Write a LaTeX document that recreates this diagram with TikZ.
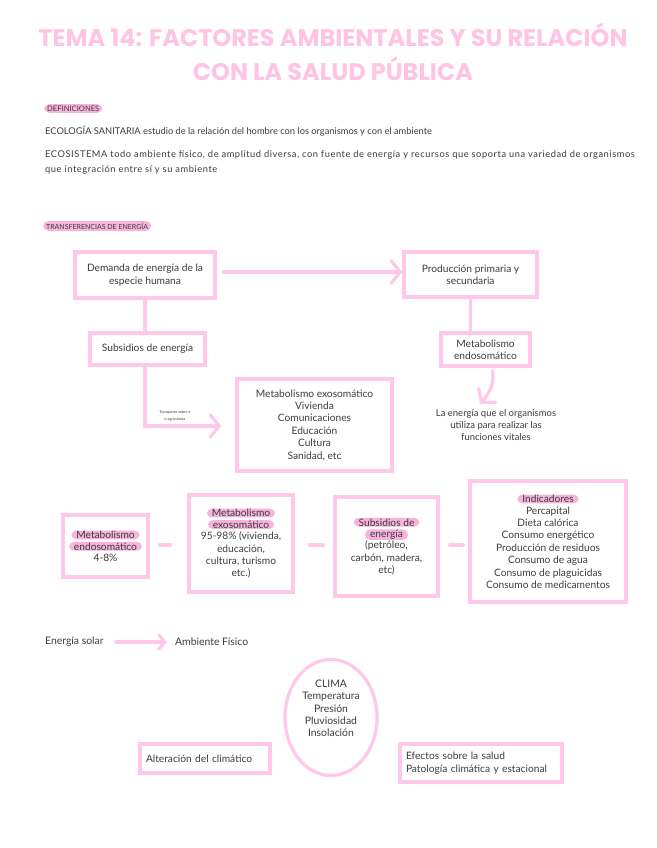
\documentclass[tikz,border=0pt]{standalone}
\usepackage{fontspec}
\setmainfont{Lato}
\newfontfamily\titlefont{Poppins}
\usetikzlibrary{arrows.meta,shapes.geometric}
\definecolor{lp}{HTML}{FFC8EA}
\definecolor{hl}{HTML}{F7B3DC}
\definecolor{tx}{HTML}{3C3C3C}
\definecolor{ttl}{HTML}{FFC3E4}
\newcommand{\hlt}[1]{\tikz[baseline]\node[anchor=base,draw=none,fill=hl,rounded corners=5pt,minimum width=0pt,minimum height=0pt,line width=0.4pt,inner xsep=5pt,inner ysep=0.6pt,text=tx,align=center]{#1};}
\tikzset{
  pbox/.style={draw=lp,line width=3.2pt,text=tx,align=center,font=\fontsize{10.2}{12.4}\selectfont,inner sep=2pt},
  plink/.style={draw=lp,line width=3.2pt,line cap=round},
  parrow/.style={plink,-{Straight Barb[length=9pt,width=22pt,line cap=round]}},
  ptext/.style={text=tx,font=\fontsize{9.3}{12.5}\selectfont,inner sep=0pt},
  sect/.style={fill=hl,rounded corners=5pt,text=tx,inner xsep=3pt,inner ysep=1.5pt}
}
\begin{document}
\begin{tikzpicture}[x=1pt,y=-1pt]
\useasboundingbox[fill=white] (0,0) rectangle (656,848);
% title
\node[text=ttl,font=\titlefont\bfseries\fontsize{24}{34}\selectfont,align=center] (title) at (333,52)
  {TEMA 14: FACTORES AMBIENTALES Y SU RELACIÓN\\CON LA SALUD PÚBLICA};
% definitions
\node[sect,anchor=west,font=\fontsize{7.6}{9}\selectfont] (def) at (44,108.5) {DEFINICIONES};
\node[ptext,anchor=west] (eco) at (45,131) {ECOLOGÍA SANITARIA estudio de la relación del hombre con los organismos y con el ambiente};
\node[ptext,anchor=north west,align=left,font=\addfontfeature{LetterSpace=6}\fontsize{9.3}{15}\selectfont] (ecos) at (45,150) {ECOSISTEMA todo ambiente físico, de amplitud diversa, con fuente de energía y recursos que soporta una variedad de organismos\\que integración entre sí y su ambiente};
\node[sect,anchor=west,font=\fontsize{7}{8.5}\selectfont] (tra) at (43,226) {TRANSFERENCIAS DE ENERGÍA};
% top boxes
\node[pbox,minimum width=140pt,minimum height=46pt] (b1) at (145,275) {Demanda de energía de la\\especie humana};
\node[pbox,minimum width=133pt,minimum height=45pt] (b2) at (470.5,274.5) {Producción primaria y\\secundaria};
\node[pbox,minimum width=115pt,minimum height=32pt] (b3) at (147.5,349) {Subsidios de energía};
\node[pbox,minimum width=89pt,minimum height=33pt] (b4) at (485.5,349.5) {Metabolismo\\endosomático};
\node[pbox,minimum width=155pt,minimum height=92pt] (b5) at (314.5,425) {Metabolismo exosomático\\Vivienda\\Comunicaciones\\Educación\\Cultura\\Sanidad, etc};
\node[ptext,align=center,font=\fontsize{9.5}{12.4}\selectfont] (lat) at (496,425) {La energía que el organismos\\utiliza para realizar las\\funciones vitales};
\node[text=tx,align=center,font=\fontsize{3.8}{6.5}\selectfont,inner sep=0pt] (small) at (175,416) {Transporte sobre e\\e agricultura};
\draw[parrow] (b1.east |- 0,272) ++(7,0) coordinate (a1) -- (a1 -| b2.west) ;
\draw[plink] (b1.south) -- (b1.south |- b3.north);
\draw[plink] (b2.south) -- (b2.south |- b4.north);
\draw[parrow,shorten >=14pt] (b3.south -| 145,0) |- (b5.west |- 0,426);
\draw[parrow] ([xshift=7pt,yshift=-3pt]b4.south) to[out=-80,in=50] ([xshift=-16pt,yshift=5pt]lat.north);
% middle row
\node[pbox,minimum width=85pt,minimum height=62pt] (b6) at (105.5,546) {\hlt{Metabolismo}\\[-1pt]\hlt{endosomático}\\[-1pt]4-8\%};
\node[pbox,minimum width=104pt,minimum height=97pt] (b7) at (241,543.5) {\hlt{Metabolismo}\\[-1pt]\hlt{exosomático}\\[-1pt]95-98\% (vivienda,\\educación,\\cultura, turismo\\etc.)};
\node[pbox,minimum width=103pt,minimum height=99pt] (b8) at (386.5,546.5) {\hlt{Subsidios de}\\[-1pt]\hlt{energía}\\[-1pt](petróleo,\\carbón, madera,\\etc)};
\node[pbox,minimum width=156pt,minimum height=121pt] (b9) at (548,541.5) {\hlt{Indicadores}\\[-1pt]Percapital\\Dieta calórica\\Consumo energético\\Producción de residuos\\Consumo de agua\\Consumo de plaguicidas\\Consumo de medicamentos};
\draw[plink,shorten <=10pt,shorten >=17pt] (b6.east |- 0,545) -- (b7.west |- 0,545);
\draw[plink,shorten <=15pt,shorten >=10pt] (b7.east |- 0,545) -- (b8.west |- 0,545);
\draw[plink,shorten <=10pt,shorten >=5pt] (b8.east |- 0,545) -- (b9.west |- 0,545);
% bottom
\node[ptext,anchor=west,font=\fontsize{10.4}{12}\selectfont] (es) at (45,642) {Energía solar};
\node[ptext,anchor=west,font=\fontsize{10.4}{12}\selectfont] (af) at (175,642) {Ambiente Físico};
\draw[plink,-{Straight Barb[length=6pt,width=14pt,line cap=round]},shorten <=12pt,shorten >=8pt] (es.east) -- (af.west);
\node[ellipse,draw=lp,line width=3.2pt,minimum width=92pt,minimum height=116pt,inner sep=0pt,text=tx,align=center,font=\fontsize{10.4}{12.3}\selectfont] (cl) at (331,717.5) {CLIMA\\Temperatura\\Presión\\Pluviosidad\\Insolación\\[6pt]};
\node[pbox,minimum width=130pt,minimum height=29pt,align=left,text width=118pt] (ba) at (205,758.5) {Alteración del climático};
\node[pbox,minimum width=162pt,minimum height=38pt,align=left,text width=150pt] (bb) at (481,763) {Efectos sobre la salud\\Patología climática y estacional};
\end{tikzpicture}
\end{document}
